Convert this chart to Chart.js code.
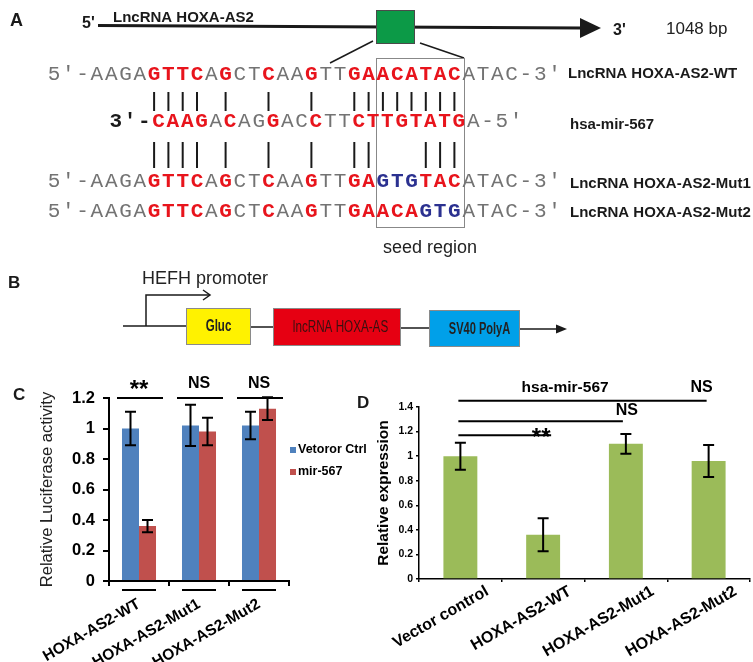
<!DOCTYPE html>
<html>
<head>
<meta charset="utf-8">
<script src="https://cdn.jsdelivr.net/npm/chart.js@4.4.1/dist/chart.umd.min.js"></script>
<style>
body { margin: 0; background: #fff; }
#wrap { position: relative; width: 753px; height: 662px; overflow: hidden; }
canvas { position: absolute; }
</style>
</head>
<body>
<div id="wrap">
  <canvas id="fig" width="753" height="662" style="left:0px;top:0px"></canvas>
  <canvas id="chartD" width="383" height="302" style="left:370px;top:360px"></canvas>
  <canvas id="chartC" width="380" height="302" style="left:0px;top:360px"></canvas>
</div>
<script>
var FONT = 'Liberation Sans, Arial, sans-serif';
var MONO = 'Liberation Mono, Courier New, monospace';

// panel A sequences (g = grey, r = red, b = blue, k = black)
var wtSeq = "5'-AAGAGTTCAGCTCAAGTTGAACATACATAC-3'";
var wtCols = "gggggggrrrrgrggrggrggrrrrrrrrggggggg";
var mirSeq = "3'-CAAGACAGGACCTTCTTGTATGA-5'";
var mirCols = "kkkrrrrgrggrggrggrrrrrrrrgggg";
var mut1Seq = "5'-AAGAGTTCAGCTCAAGTTGAGTGTACATAC-3'";
var mut1Cols = "gggggggrrrrgrggrggrggrrbbbrrrggggggg";
var mut2Seq = "5'-AAGAGTTCAGCTCAAGTTGAACAGTGATAC-3'";
var mut2Cols = "gggggggrrrrgrggrggrggrrrrrbbbggggggg";
var wtPairs = [7, 8, 9, 10, 12, 15, 18, 21, 22, 23, 24, 25, 26, 27, 28];
var mutPairs = [7, 8, 9, 10, 12, 15, 18, 21, 22, 26, 27, 28];

// panel C
var lucLabels = ['HOXA-AS2-WT', 'HOXA-AS2-Mut1', 'HOXA-AS2-Mut2'];
var ctrlValues = [1.00, 1.02, 1.02];
var ctrlErrors = [0.11, 0.135, 0.09];
var mirValues = [0.36, 0.98, 1.13];
var mirErrors = [0.04, 0.09, 0.075];
var lucSig = ['**', 'NS', 'NS'];

// panel D
var exprLabels = ['Vector control', 'HOXA-AS2-WT', 'HOXA-AS2-Mut1', 'HOXA-AS2-Mut2'];
var exprValues = [1.00, 0.36, 1.10, 0.96];
var exprErrors = [0.11, 0.135, 0.08, 0.13];

var COLS = { g: '#737373', r: '#e8141c', b: '#2b3190', k: '#1a1a1a' };
var PITCH = 14.3;

var fig = document.getElementById('fig').getContext('2d');

function text(ctx, s, x, y, font, color, align) {
  ctx.font = font;
  ctx.fillStyle = color || '#1a1a1a';
  ctx.textAlign = align || 'left';
  ctx.textBaseline = 'alphabetic';
  ctx.fillText(s, x, y);
}

function narrow(ctx, s, cx, cy, font, sx, color) {
  ctx.save();
  ctx.translate(cx, cy);
  ctx.scale(sx, 1);
  ctx.font = font;
  ctx.fillStyle = color;
  ctx.textAlign = 'center';
  ctx.textBaseline = 'middle';
  ctx.fillText(s, 0, 0);
  ctx.restore();
}

function seqRow(ctx, seq, cols, x0, base) {
  for (var i = 0; i < seq.length; i++) {
    var c = cols[i];
    ctx.font = (c === 'g' ? '' : 'bold ') + '21px ' + MONO;
    ctx.fillStyle = COLS[c];
    ctx.textAlign = 'center';
    ctx.textBaseline = 'alphabetic';
    ctx.fillText(seq[i], x0 + PITCH * i, base);
  }
}

function line(ctx, pts, w, color) {
  ctx.beginPath();
  ctx.moveTo(pts[0], pts[1]);
  for (var i = 2; i < pts.length; i += 2) ctx.lineTo(pts[i], pts[i + 1]);
  ctx.lineWidth = w;
  ctx.strokeStyle = color || '#1a1a1a';
  ctx.stroke();
}

function drawDiagram(ctx) {
  // A
  text(ctx, 'A', 10, 26, 'bold 18px ' + FONT);
  text(ctx, "5'", 82, 28, 'bold 16px ' + FONT);
  text(ctx, 'LncRNA HOXA-AS2', 113, 22, 'bold 15px ' + FONT);
  line(ctx, [98, 25.5, 582, 28], 3);
  ctx.beginPath();
  ctx.moveTo(580, 18); ctx.lineTo(601, 28); ctx.lineTo(580, 38); ctx.closePath();
  ctx.fillStyle = '#1a1a1a'; ctx.fill();
  ctx.fillStyle = '#0c9a47';
  ctx.fillRect(376, 10, 39, 34);
  ctx.lineWidth = 1; ctx.strokeStyle = '#4a4a4a';
  ctx.strokeRect(376.5, 10.5, 38, 33);
  text(ctx, "3'", 613, 35, 'bold 16px ' + FONT);
  text(ctx, '1048 bp', 666, 34, '17px ' + FONT, '#222');
  line(ctx, [373, 41, 330, 63], 1.5);
  line(ctx, [420, 43, 464, 58], 1.5);

  ctx.lineWidth = 1; ctx.strokeStyle = '#888';
  ctx.strokeRect(376.5, 58.5, 88, 169);

  seqRow(ctx, wtSeq, wtCols, 54, 80);
  seqRow(ctx, mirSeq, mirCols, 54 + 4 * PITCH + 4.5, 127);
  seqRow(ctx, mut1Seq, mut1Cols, 54, 187);
  seqRow(ctx, mut2Seq, mut2Cols, 54, 217);
  wtPairs.forEach(function (i) { line(ctx, [54 + PITCH * i, 92, 54 + PITCH * i, 111], 2); });
  mutPairs.forEach(function (i) { line(ctx, [54 + PITCH * i, 142, 54 + PITCH * i, 168], 2); });

  text(ctx, 'LncRNA HOXA-AS2-WT', 568, 78, 'bold 15px ' + FONT);
  text(ctx, 'hsa-mir-567', 570, 129, 'bold 15px ' + FONT);
  text(ctx, 'LncRNA HOXA-AS2-Mut1', 570, 188, 'bold 15px ' + FONT);
  text(ctx, 'LncRNA HOXA-AS2-Mut2', 570, 217, 'bold 15px ' + FONT);
  text(ctx, 'seed region', 430, 253, '18px ' + FONT, '#222', 'center');

  // B
  text(ctx, 'B', 8, 288, 'bold 17px ' + FONT);
  text(ctx, 'HEFH promoter', 142, 284, '18px ' + FONT, '#222');
  line(ctx, [146, 326, 146, 295, 210, 295], 1.5);
  line(ctx, [203, 290, 210, 295, 203, 300], 1.5);
  line(ctx, [123, 326, 186, 326], 1.5);
  line(ctx, [251, 327, 273, 327], 1.5);
  line(ctx, [401, 328, 429, 328], 1.5);
  line(ctx, [520, 329, 558, 329], 1.5);
  ctx.beginPath();
  ctx.moveTo(556, 324.5); ctx.lineTo(567, 329); ctx.lineTo(556, 333.5); ctx.closePath();
  ctx.fillStyle = '#1a1a1a'; ctx.fill();

  var boxes = [[186, 308, 65, 37, '#fff200'], [273, 308, 128, 38, '#e60012'], [429, 310, 91, 37, '#00a0e9']];
  boxes.forEach(function (b) {
    ctx.fillStyle = b[4];
    ctx.fillRect(b[0], b[1], b[2], b[3]);
    ctx.lineWidth = 1; ctx.strokeStyle = '#8a8a8a';
    ctx.strokeRect(b[0] + 0.5, b[1] + 0.5, b[2] - 1, b[3] - 1);
  });
  narrow(ctx, 'Gluc', 218.5, 327, 'bold 16px ' + FONT, 0.72, '#222');
  narrow(ctx, 'lncRNA HOXA-AS', 340.5, 328, '16px ' + FONT, 0.73, '#3a1010');
  narrow(ctx, 'SV40 PolyA', 479.5, 330, 'bold 16px ' + FONT, 0.69, '#222');

  // panel letters of the charts
  text(ctx, 'C', 13, 400, 'bold 17px ' + FONT);
  text(ctx, 'D', 357, 408, 'bold 17px ' + FONT);
}

drawDiagram(fig);

var errorBars = {
  id: 'errorBars',
  afterDatasetsDraw: function (chart) {
    var ctx = chart.ctx, y = chart.scales.y;
    ctx.save();
    ctx.strokeStyle = '#000';
    ctx.lineWidth = 2;
    chart.data.datasets.forEach(function (ds, di) {
      chart.getDatasetMeta(di).data.forEach(function (bar, i) {
        var top = y.getPixelForValue(ds.data[i] + ds.errors[i]);
        var bot = y.getPixelForValue(ds.data[i] - ds.errors[i]);
        ctx.beginPath();
        ctx.moveTo(bar.x, top); ctx.lineTo(bar.x, bot);
        ctx.moveTo(bar.x - 5.5, top); ctx.lineTo(bar.x + 5.5, top);
        ctx.moveTo(bar.x - 5.5, bot); ctx.lineTo(bar.x + 5.5, bot);
        ctx.stroke();
      });
    });
    ctx.restore();
  }
};

function stars(ctx, s, x, y, size) {
  ctx.font = 'bold ' + size + 'px ' + FONT;
  ctx.textAlign = 'center';
  if (s === '**') {
    ctx.textBaseline = 'alphabetic';
    ctx.fillText(s, x, y + size * 0.56);
  } else {
    ctx.textBaseline = 'middle';
    ctx.fillText(s, x, y);
  }
}

var lucMarks = {
  id: 'lucMarks',
  afterDraw: function (chart) {
    var ctx = chart.ctx, x = chart.scales.x, y = chart.scales.y, a = chart.chartArea;
    ctx.save();
    ctx.strokeStyle = '#000';
    ctx.fillStyle = '#000';
    ctx.lineWidth = 2;
    var top = y.getPixelForValue(1.2);
    lucLabels.forEach(function (l, i) {
      var cx = x.getPixelForValue(i);
      ctx.beginPath();
      ctx.moveTo(cx - 17, a.bottom + 9); ctx.lineTo(cx + 17, a.bottom + 9);
      ctx.moveTo(cx - 22, top); ctx.lineTo(cx + 24, top);
      ctx.stroke();
      stars(ctx, lucSig[i], cx, top - 14.5, lucSig[i] === '**' ? 24 : 16);
    });
    chart.data.datasets.forEach(function (ds, di) {
      var yy = a.top + 52 + di * 22;
      ctx.fillStyle = ds.backgroundColor;
      ctx.fillRect(a.right + 1, yy - 3, 6, 6);
      ctx.fillStyle = '#000';
      ctx.font = 'bold 12.5px ' + FONT;
      ctx.textAlign = 'left';
      ctx.textBaseline = 'middle';
      ctx.fillText(ds.label, a.right + 9, yy);
    });
    ctx.restore();
  }
};

var exprMarks = {
  id: 'exprMarks',
  afterDraw: function (chart) {
    var ctx = chart.ctx, x = chart.scales.x, y = chart.scales.y;
    var c = exprLabels.map(function (l, i) { return x.getPixelForValue(i); });
    ctx.save();
    ctx.strokeStyle = '#000';
    ctx.fillStyle = '#000';
    ctx.lineWidth = 2;
    var spans = [[1.45, c[3] - 2], [1.285, c[2] - 3], [1.17, c[1] + 8]];
    spans.forEach(function (s) {
      var yy = y.getPixelForValue(s[0]);
      ctx.beginPath();
      ctx.moveTo(c[0] - 2, yy); ctx.lineTo(s[1], yy);
      ctx.stroke();
    });
    stars(ctx, 'hsa-mir-567', c[1] + 22, y.getPixelForValue(1.56), 15.5);
    stars(ctx, 'NS', c[3] - 7, y.getPixelForValue(1.56), 16);
    stars(ctx, 'NS', c[2] + 1, y.getPixelForValue(1.37), 16);
    stars(ctx, '**', c[1] - 2, y.getPixelForValue(1.2), 24);
    ctx.restore();
  }
};

function fmt(v) { return String(+v.toFixed(1)); }

new Chart(document.getElementById('chartC'), {
  type: 'bar',
  data: {
    labels: lucLabels,
    datasets: [
      { label: 'Vetoror Ctrl', data: ctrlValues, errors: ctrlErrors, backgroundColor: '#4f81bd' },
      { label: 'mir-567', data: mirValues, errors: mirErrors, backgroundColor: '#c0504d' }
    ]
  },
  options: {
    responsive: false,
    animation: false,
    devicePixelRatio: 1,
    events: [],
    categoryPercentage: 0.567,
    barPercentage: 1,
    layout: { padding: { top: 38, right: 91, left: 0, bottom: 0 } },
    plugins: { legend: { display: false }, tooltip: { enabled: false } },
    scales: {
      x: {
        afterFit: function (s) { s.height = 81; s.paddingLeft = 0; s.paddingRight = 0; },
        grid: { drawOnChartArea: false, drawTicks: true, tickLength: 5, color: '#000', lineWidth: 2 },
        border: { display: true, color: '#000', width: 2 },
        ticks: { color: '#000', font: { family: FONT, size: 15.5, weight: 'bold' }, minRotation: 30, maxRotation: 30, padding: 9, autoSkip: false }
      },
      y: {
        min: 0, max: 1.2,
        afterFit: function (s) { s.width = 109; s.paddingTop = 0; s.paddingBottom = 0; },
        grid: { drawOnChartArea: false, drawTicks: true, tickLength: 6, color: '#000', lineWidth: 2 },
        border: { display: true, color: '#000', width: 2 },
        ticks: { stepSize: 0.2, color: '#000', padding: 8, font: { family: FONT, size: 16.5, weight: 'bold' }, callback: fmt },
        title: { display: true, text: 'Relative Luciferase activity', color: '#222', font: { family: FONT, size: 16.5 }, padding: { top: 38, bottom: 0 } }
      }
    }
  },
  plugins: [errorBars, lucMarks]
});

new Chart(document.getElementById('chartD'), {
  type: 'bar',
  data: {
    labels: exprLabels,
    datasets: [
      { label: 'Relative expression', data: exprValues, errors: exprErrors, backgroundColor: '#9bbb59' }
    ]
  },
  options: {
    responsive: false,
    animation: false,
    devicePixelRatio: 1,
    events: [],
    categoryPercentage: 0.41,
    barPercentage: 1,
    layout: { padding: { top: 47, right: 3, left: 0, bottom: 0 } },
    plugins: { legend: { display: false }, tooltip: { enabled: false } },
    scales: {
      x: {
        afterFit: function (s) { s.height = 83; s.paddingLeft = 0; s.paddingRight = 0; },
        grid: { drawOnChartArea: false, drawTicks: true, tickLength: 3, color: '#000', lineWidth: 1.5 },
        border: { display: true, color: '#000', width: 1.5 },
        ticks: { color: '#000', font: { family: FONT, size: 16, weight: 'bold' }, minRotation: 30, maxRotation: 30, padding: 0, labelOffset: 27, autoSkip: false }
      },
      y: {
        min: 0, max: 1.4,
        afterFit: function (s) { s.width = 49; s.paddingTop = 0; s.paddingBottom = 0; },
        grid: { drawOnChartArea: false, drawTicks: true, tickLength: 3, color: '#000', lineWidth: 1.5 },
        border: { display: true, color: '#000', width: 1.5 },
        ticks: { stepSize: 0.2, color: '#000', padding: 3, font: { family: FONT, size: 10.5, weight: 'bold' }, callback: fmt },
        title: { display: true, text: 'Relative expression', color: '#000', font: { family: FONT, size: 15.5, weight: 'bold' }, padding: { top: 4, bottom: 0 } }
      }
    }
  },
  plugins: [errorBars, exprMarks]
});
</script>
</body>
</html>
